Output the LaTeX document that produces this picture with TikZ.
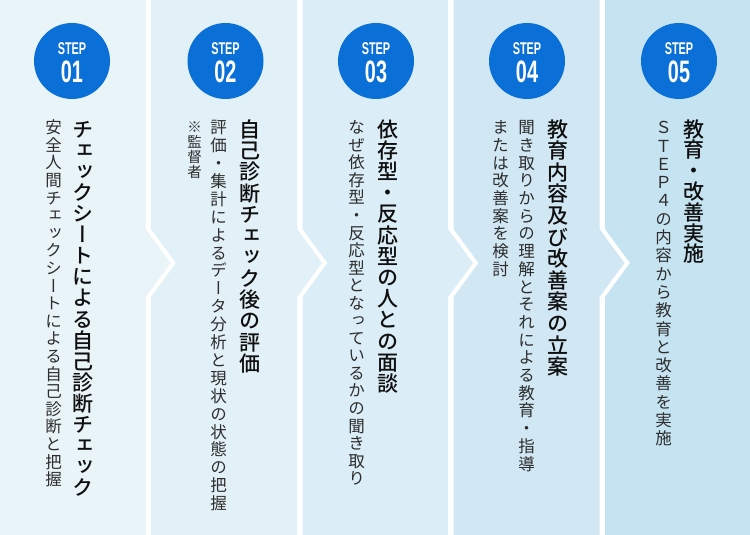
\documentclass[tikz,border=0pt]{standalone}
\usepackage{fontspec}
\newfontfamily\jp{Noto Sans CJK JP}[RawFeature=+vert]
\newfontfamily\jpm{Noto Sans CJK JP Medium}[RawFeature=+vert]
\newfontfamily\stepfont{Liberation Sans}[FakeStretch=0.64]
\newcommand\mytatechar[1]{\hbox to 1em{\vrule height .88em depth .12em width 0pt\hss#1\hss}}
\ExplSyntaxOn
\cs_new:Npn \my_tate_char:n #1 { \mytatechar{#1} }
\NewDocumentCommand\tate{mm}
 {
  \vbox{ \baselineskip=#1 \relax \lineskiplimit=-\maxdimen \lineskip=0pt
   \tl_map_function:nN {#2} \my_tate_char:n }
 }
\ExplSyntaxOff
\definecolor{c1}{RGB}{233,244,249}
\definecolor{c2}{RGB}{226,240,247}
\definecolor{c3}{RGB}{219,237,246}
\definecolor{c4}{RGB}{209,232,244}
\definecolor{c5}{RGB}{197,227,240}
\definecolor{stepblue}{RGB}{10,112,215}
\definecolor{headc}{RGB}{15,15,15}
\definecolor{subc}{RGB}{45,45,45}
\tikzset{
  stepcircle/.style={circle,fill=stepblue,minimum size=76pt,inner sep=0pt},
  steplabel/.style={anchor=base,inner sep=0pt,text=white,font=\stepfont\bfseries\fontsize{17}{17}\selectfont},
  stepnum/.style={anchor=base,inner sep=0pt,text=white,font=\stepfont\bfseries\fontsize{31}{31}\selectfont},
  headtext/.style={anchor=north,inner sep=0pt,text=headc,font=\jpm\fontsize{21}{21}\selectfont},
  subtext/.style={anchor=north,inner sep=0pt,text=subc,font=\jp\fontsize{16.5}{16.5}\selectfont},
  notetext/.style={anchor=north,inner sep=0pt,text=subc,font=\jp\fontsize{14.5}{14.5}\selectfont}
}
\begin{document}
\begin{tikzpicture}[x=1pt,y=-1pt]
\useasboundingbox (0,0) rectangle (750,535);
\fill[white] (0,0) rectangle (750,535);
% columns
\fill[c1] (0,0) -- (145.5,0) -- (145.5,229) -- (170.5,263) -- (145.5,297) -- (145.5,535) -- (0,535) -- cycle;
\fill[c2] (151,0) -- (297,0) -- (297,229) -- (322,263) -- (297,297) -- (297,535) -- (151,535) -- (151,297) -- (176,263) -- (151,229) -- cycle;
\fill[c3] (302.5,0) -- (448,0) -- (448,229) -- (473,263) -- (448,297) -- (448,535) -- (302.5,535) -- (302.5,297) -- (327.5,263) -- (302.5,229) -- cycle;
\fill[c4] (453.5,0) -- (599.5,0) -- (599.5,229) -- (624.5,263) -- (599.5,297) -- (599.5,535) -- (453.5,535) -- (453.5,297) -- (478.5,263) -- (453.5,229) -- cycle;
\fill[c5] (605,0) -- (750,0) -- (750,535) -- (605,535) -- (605,297) -- (630,263) -- (605,229) -- cycle;
% step circles
\node[stepcircle] (s1) at (72,61) {};
\node[stepcircle] (s2) at (225.5,61) {};
\node[stepcircle] (s3) at (376,61) {};
\node[stepcircle] (s4) at (527,61) {};
\node[stepcircle] (s5) at (679,61) {};
\node[steplabel] (l1) at (72,55) {STEP};
\node[steplabel] (l2) at (225.5,55) {STEP};
\node[steplabel] (l3) at (376,55) {STEP};
\node[steplabel] (l4) at (527,55) {STEP};
\node[steplabel] (l5) at (679,55) {STEP};
\node[stepnum] (n1) at (72,82) {01};
\node[stepnum] (n2) at (225.5,82) {02};
\node[stepnum] (n3) at (376,82) {03};
\node[stepnum] (n4) at (527,82) {04};
\node[stepnum] (n5) at (679,82) {05};
% step 1
\node[headtext] (h1) at (83,118.5) {\tate{21.1pt}{チェックシートによる自己診断チェック}};
\node[subtext] (t1) at (53.5,119) {\tate{17.6pt}{安全人間チェックシートによる自己診断と把握}};
% step 2
\node[headtext] (h2) at (250,118.5) {\tate{21.3pt}{自己診断チェック後の評価}};
\node[subtext] (t2) at (218.5,119) {\tate{17.9pt}{評価・集計によるデータ分析と現状の状態の把握}};
\node[notetext] (m2) at (194.5,120) {\tate{15pt}{※監督者}};
% step 3
\node[headtext] (h3) at (388,118.5) {\tate{21.2pt}{依存型・反応型の人との面談}};
\node[subtext] (t3) at (356.5,119) {\tate{17.55pt}{なぜ依存型・反応型となっているかの聞き取り}};
% step 4
\node[headtext] (h4) at (557.5,118.5) {\tate{21.6pt}{教育内容及び改善案の立案}};
\node[subtext] (t4) at (526.5,119) {\tate{17.7pt}{聞き取りからの理解とそれによる教育・指導}};
\node[subtext] (u4) at (500.5,119) {\tate{17.7pt}{または改善案を検討}};
% step 5
\node[headtext] (h5) at (693.5,118.5) {\tate{20.8pt}{教育・改善実施}};
\node[subtext] (t5) at (663.5,119) {\tate{18.3pt}{ＳＴＥＰ４の内容から教育と改善を実施}};
\end{tikzpicture}
\end{document}
